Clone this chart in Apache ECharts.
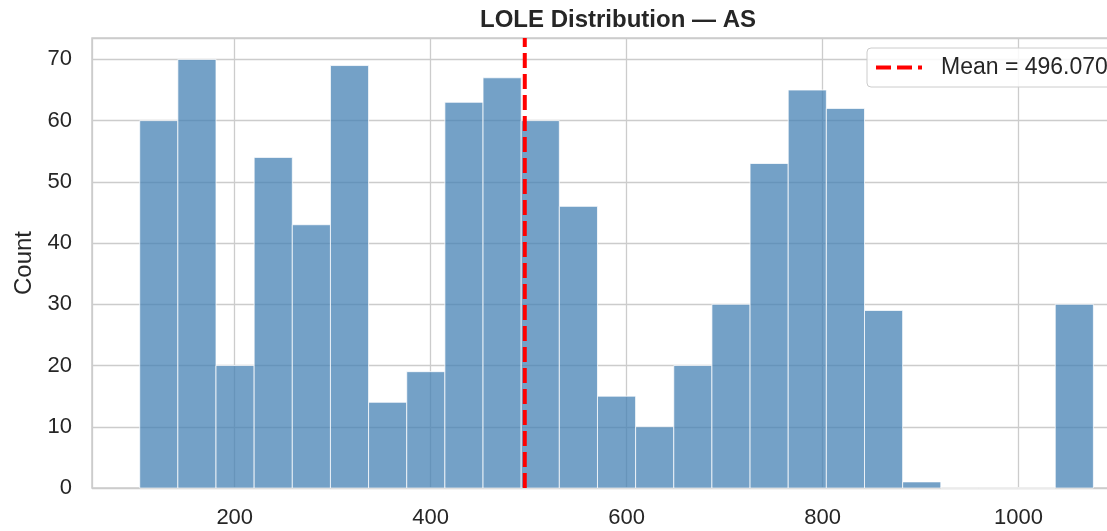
<!DOCTYPE html>
<html>
<head>
<meta charset="utf-8">
<script src="https://cdn.jsdelivr.net/npm/echarts@6/dist/echarts.min.js"></script>
<style>
  html, body { margin: 0; padding: 0; background: #fff; }
  #chart { width: 1107px; height: 531px; }
</style>
</head>
<body>
<div id="chart"></div>
<script>
// histogram bins
const binStart = 103.0;
const binWidth = 38.94;
const counts = [60, 70, 20, 54, 43, 69, 14, 19, 63, 67, 60, 46, 15, 10, 20, 30, 53, 65, 62, 29, 1, 0, 0, 0, 30];
const meanValue = 496.07;
const meanLabel = 'Mean = 496.070';
const xRange = [54.3, 1125.1];
const yRange = [0, 73.5];

const FONT = '"Liberation Sans", Arial, sans-serif';
const TEXT = '#262626';
const GRID = '#cccccc';

const binData = counts.map(function (c, i) {
    return [binStart + i * binWidth, binStart + (i + 1) * binWidth, c];
});

const chart = echarts.init(document.getElementById('chart'));

const option = {
    backgroundColor: '#ffffff',
    animation: false,
    title: {
        text: 'LOLE Distribution — AS',
        left: 613,
        textAlign: 'center',
        top: 3,
        textStyle: { fontFamily: FONT, fontSize: 24, fontWeight: 'bold', color: TEXT }
    },
    grid: {
        left: 92, top: 38, bottom: 43, right: -34,
        outerBoundsMode: 'none',
        containLabel: false,
        show: true, borderColor: GRID, borderWidth: 1.5
    },
    legend: {
        left: 867, top: 48,
        padding: [8, 14, 8, 9],
        itemWidth: 46, itemHeight: 4,
        backgroundColor: 'rgba(255,255,255,0.85)',
        borderColor: GRID, borderWidth: 1, borderRadius: 4,
        textStyle: { fontFamily: FONT, fontSize: 23, color: TEXT, padding: [0, 0, 0, 14], lineHeight: 23 },
        data: [{
            name: meanLabel,
            icon: 'path://M0,0h15v4h-15zM21,0h15v4h-15zM42,0h4v4h-4z',
            itemStyle: { color: '#ff0000' }
        }]
    },
    xAxis: {
        type: 'value',
        min: xRange[0], max: xRange[1],
        splitNumber: 5,
        axisLine: { show: false },
        axisTick: { show: false },
        axisLabel: {
            fontFamily: FONT, fontSize: 22, color: TEXT, margin: 19,
            showMinLabel: false, showMaxLabel: false,
            formatter: function (v) { return String(v); }
        },
        splitLine: { show: true, lineStyle: { color: GRID, width: 1.3 } }
    },
    yAxis: {
        type: 'value',
        min: yRange[0], max: yRange[1],
        interval: 10,
        name: 'Count',
        nameLocation: 'middle',
        nameGap: 54,
        nameTextStyle: { fontFamily: FONT, fontSize: 24, color: TEXT },
        axisLine: { show: false },
        axisTick: { show: false },
        axisLabel: { fontFamily: FONT, fontSize: 22, color: TEXT, margin: 20, showMaxLabel: false },
        splitLine: { show: true, lineStyle: { color: GRID, width: 1.3 } }
    },
    series: [
        {
            type: 'custom',
            name: 'bins',
            data: binData,
            encode: { x: [0, 1], y: 2 },
            renderItem: function (params, api) {
                const p0 = api.coord([api.value(0), api.value(2)]);
                const p1 = api.coord([api.value(1), 0]);
                return {
                    type: 'rect',
                    shape: { x: p0[0], y: p0[1], width: p1[0] - p0[0], height: p1[1] - p0[1] },
                    style: { fill: '#4682b4', opacity: 0.75, stroke: '#ffffff', lineWidth: 1 }
                };
            }
        },
        {
            type: 'line',
            name: meanLabel,
            data: [[meanValue, yRange[0]], [meanValue, yRange[1]]],
            symbol: 'none',
            z: 5,
            lineStyle: { color: '#ff0000', width: 4, type: [15, 6] },
            itemStyle: { color: '#ff0000' }
        }
    ]
};

chart.setOption(option);
</script>
</body>
</html>
